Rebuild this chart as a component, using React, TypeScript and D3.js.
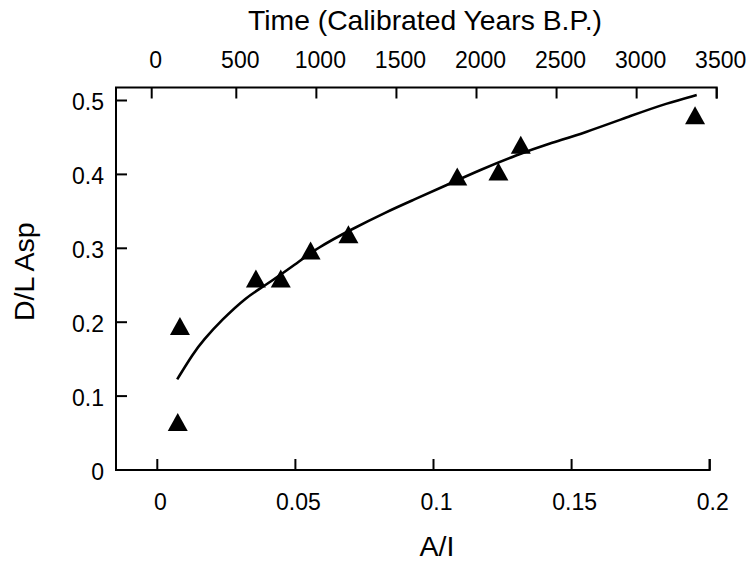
import React from "react";
import * as d3 from "d3";

// Data points (A/I vs D/L Asp)
const pointAI = [0.0082, 0.0074, 0.0357, 0.0447, 0.0555, 0.0692, 0.1086, 0.1235, 0.1316, 0.1947];
const pointDL = [0.195, 0.065, 0.259, 0.259, 0.297, 0.319, 0.397, 0.404, 0.44, 0.48];

// Fitted curve
const curveAI = [0.0072, 0.013, 0.0167, 0.0233, 0.0324, 0.0384, 0.0505, 0.0577, 0.0698, 0.0831, 0.0927, 0.1048, 0.1168, 0.1301, 0.1422, 0.1542, 0.1723, 0.1844, 0.1953];
const curveDL = [0.1227, 0.1579, 0.1759, 0.203, 0.2345, 0.248, 0.2797, 0.3, 0.3248, 0.3495, 0.3654, 0.3857, 0.406, 0.4263, 0.4421, 0.4556, 0.4804, 0.4962, 0.5074];

// Axis ticks
const bottomTicks = [0, 0.05, 0.1, 0.15, 0.2];
const bottomTickLabels = ["0", "0.05", "0.1", "0.15", "0.2"];
const leftTicks = [0, 0.1, 0.2, 0.3, 0.4, 0.5];
const leftTickLabels = ["0", "0.1", "0.2", "0.3", "0.4", "0.5"];
const topTicks = [0, 500, 1000, 1500, 2000, 2500, 3000, 3500];
const topTickLabels = ["0", "500", "1000", "1500", "2000", "2500", "3000", "3500"];

const FONT = "'Liberation Sans', Arial, Helvetica, sans-serif";

export default function App() {
  const W = 751;
  const H = 565;
  const axisLeft = 116;
  const axisBottom = 470;
  const axisTop = 87.5;

  const x = d3.scaleLinear().domain([0, 0.2]).range([157.3, 709.7]);
  const y = d3.scaleLinear().domain([0, 0.5]).range([470, 100.5]);
  const xTop = d3.scaleLinear().domain([0, 500, 3500]).range([151.7, 236.3, 716.7]);

  const line = d3
    .line<number>()
    .x((_, i) => x(curveAI[i]))
    .y((_, i) => y(curveDL[i]))
    .curve(d3.curveBasis);

  const tri = (cx: number, cy: number) => {
    const w = 20;
    const h = 18;
    return `M${cx - w / 2},${cy + h / 2}L${cx},${cy - h / 2}L${cx + w / 2},${cy + h / 2}Z`;
  };

  const tickLen = 11;

  return (
    <svg
      width={W}
      height={H}
      style={{ position: "absolute", left: 0, top: 0, background: "#fff" }}
      fontFamily={FONT}
    >
      <rect x={0} y={0} width={W} height={H} fill="#fff" />
      {/* axes lines */}
      <path
        d={`M${xTop(3500)},${axisTop + tickLen}V${axisTop}H${axisLeft}V${axisBottom}H${x(0.2)}V${axisBottom - tickLen}`}
        fill="none"
        stroke="#000"
        strokeWidth={2}
      />
      {/* bottom ticks */}
      {bottomTicks.map((t, i) => (
        <g key={"b" + i}>
          <line x1={x(t)} x2={x(t)} y1={axisBottom} y2={axisBottom - tickLen} stroke="#000" strokeWidth={2} />
          <text x={x(t) + 3} y={510} textAnchor="middle" fontSize={23} fill="#000">
            {bottomTickLabels[i]}
          </text>
        </g>
      ))}
      {/* left ticks */}
      {leftTicks.map((t, i) => (
        <g key={"l" + i}>
          <line x1={axisLeft} x2={axisLeft + tickLen} y1={y(t)} y2={y(t)} stroke="#000" strokeWidth={2} />
          <text x={104} y={y(t) + 9.5} textAnchor="end" fontSize={23} fill="#000">
            {leftTickLabels[i]}
          </text>
        </g>
      ))}
      {/* top ticks */}
      {topTicks.map((t, i) => (
        <g key={"t" + i}>
          <line x1={xTop(t)} x2={xTop(t)} y1={axisTop} y2={axisTop + tickLen} stroke="#000" strokeWidth={2} />
          <text x={xTop(t) + 4} y={68.3} textAnchor="middle" fontSize={23} fill="#000">
            {topTickLabels[i]}
          </text>
        </g>
      ))}
      {/* titles */}
      <text x={425} y={30} textAnchor="middle" fontSize={28.3} fill="#000">
        Time (Calibrated Years B.P.)
      </text>
      <text x={437} y={556} textAnchor="middle" fontSize={28.5} fill="#000">
        A/I
      </text>
      <text
        transform={`translate(33.5,271.7) rotate(-90)`}
        textAnchor="middle"
        fontSize={28.5}
        fill="#000"
      >
        D/L Asp
      </text>
      {/* curve */}
      <path d={line(curveAI) || ""} fill="none" stroke="#000" strokeWidth={2.6} strokeLinejoin="round" />
      {/* points */}
      {pointAI.map((v, i) => (
        <path key={"p" + i} d={tri(x(v), y(pointDL[i]))} fill="#000" />
      ))}
    </svg>
  );
}
